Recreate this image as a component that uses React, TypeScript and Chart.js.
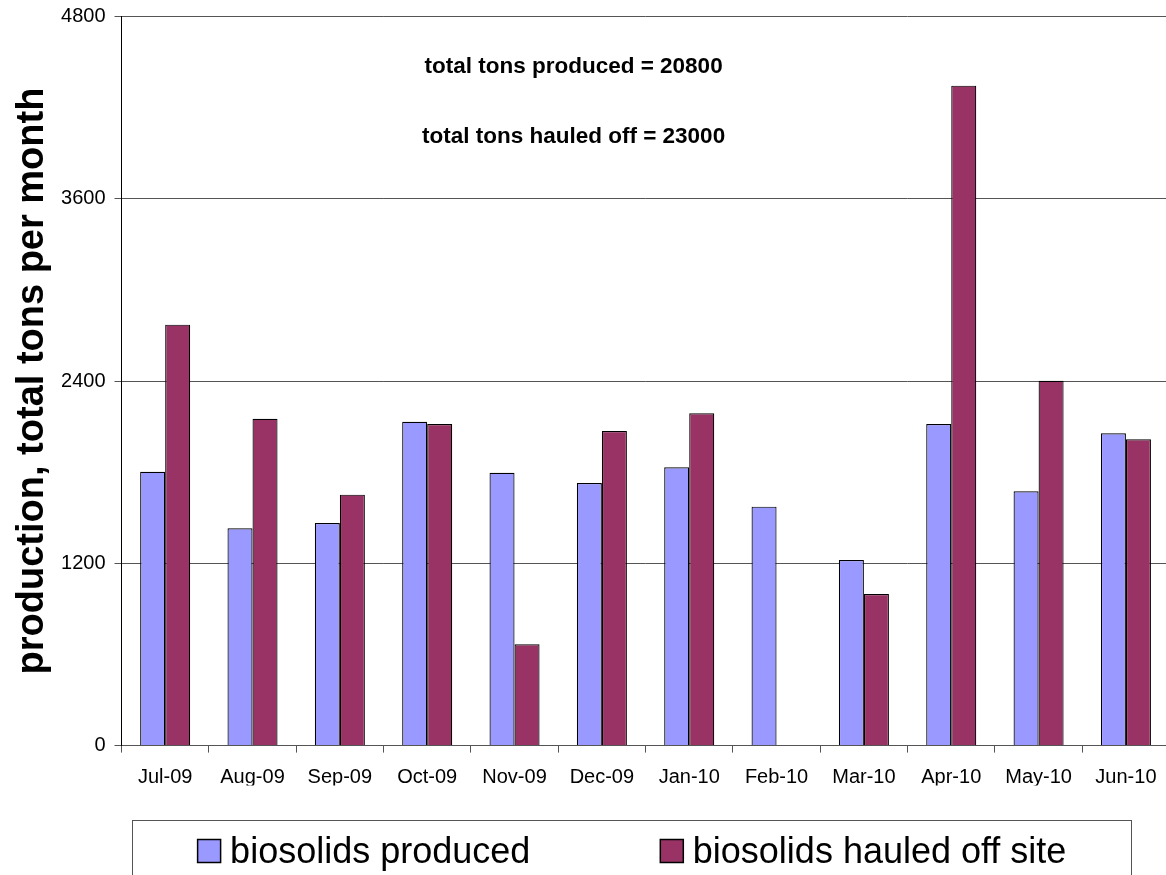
import React, { useEffect, useRef } from "react";
import { Chart, registerables } from "chart.js";

Chart.register(...registerables);

const categories = [
  "Jul-09", "Aug-09", "Sep-09", "Oct-09", "Nov-09", "Dec-09",
  "Jan-10", "Feb-10", "Mar-10", "Apr-10", "May-10", "Jun-10",
];
const producedValues = [1803, 1430, 1465, 2132, 1796, 1729, 1832, 1573, 1222, 2117, 1674, 2056];
const hauledValues = [2771, 2152, 1652, 2117, 667, 2071, 2187, 0, 998, 4344, 2402, 2016];
const seriesLabels = ["biosolids produced", "biosolids hauled off site"];
const yTicks = [0, 1200, 2400, 3600, 4800];
const annotations = ["total tons produced = 20800", "total tons hauled off = 23000"];
const yTitle = "production, total tons per month";

const FONT = "'Liberation Sans', Arial, Helvetica, sans-serif";

const annotationPlugin = {
  id: "annotationText",
  afterDraw(chart: any) {
    const { ctx, chartArea } = chart;
    const x = chartArea.left + (chartArea.right - chartArea.left) * 0.4313;
    const ys = [66.5, 137];
    ctx.save();
    ctx.font = `bold 22.5px ${FONT}`;
    ctx.fillStyle = "#000";
    ctx.textAlign = "center";
    ctx.textBaseline = "middle";
    annotations.forEach((t, i) => ctx.fillText(t, x, ys[i]));
    ctx.restore();
  },
};

const legendPlugin = {
  id: "framedLegend",
  afterDraw(chart: any) {
    const { ctx } = chart;
    const frameLeft = 132.5;
    const frameRight = 1131.5;
    const frameTop = 820.5;
    ctx.save();
    ctx.strokeStyle = "#555";
    ctx.lineWidth = 1;
    ctx.strokeRect(frameLeft, frameTop, frameRight - frameLeft, chart.height);
    ctx.font = `36px ${FONT}`;
    const box = 23;
    const gap = 9.5;
    const between = 130;
    const widths = chart.data.datasets.map((d: any) => box + gap + ctx.measureText(d.label).width);
    const total = widths.reduce((a: number, b: number) => a + b, 0) + between * (widths.length - 1);
    let x = (frameLeft + frameRight) / 2 - total / 2;
    const baseline = 862.5;
    chart.data.datasets.forEach((d: any, i: number) => {
      ctx.fillStyle = d.backgroundColor;
      ctx.fillRect(x, baseline - box, box, box);
      ctx.strokeStyle = "#000";
      ctx.lineWidth = 1.5;
      ctx.strokeRect(x, baseline - box, box, box);
      ctx.fillStyle = "#000";
      ctx.textBaseline = "alphabetic";
      ctx.textAlign = "left";
      ctx.fillText(d.label, x + box + gap, baseline);
      x += widths[i] + between;
    });
    ctx.restore();
  },
};

export default function App() {
  const canvasRef = useRef<HTMLCanvasElement | null>(null);

  useEffect(() => {
    if (!canvasRef.current) return;
    const chart = new Chart(canvasRef.current, {
      type: "bar",
      data: {
        labels: categories,
        datasets: [
          {
            label: seriesLabels[0],
            data: producedValues,
            backgroundColor: "#9999FF",
            borderColor: "#000",
            borderWidth: 1.2,
            categoryPercentage: 0.573,
            barPercentage: 1,
          },
          {
            label: seriesLabels[1],
            data: hauledValues,
            backgroundColor: "#993366",
            borderColor: "#000",
            borderWidth: 1.2,
            categoryPercentage: 0.573,
            barPercentage: 1,
          },
        ],
      },
      options: {
        animation: false,
        responsive: true,
        maintainAspectRatio: false,
        layout: { padding: { top: 16.4, right: 10.4, bottom: 114.4, left: 0 } },
        plugins: {
          legend: { display: false },
          tooltip: { enabled: false },
          title: { display: false },
        },
        scales: {
          x: {
            offset: true,
            grid: {
              offset: true,
              drawOnChartArea: false,
              drawTicks: true,
              tickLength: 7,
              color: "#555",
            },
            border: { display: true, color: "#555", width: 1 },
            ticks: {
              color: "#000",
              font: { family: FONT, size: 20 },
              padding: 13,
              maxRotation: 0,
              autoSkip: false,
            },
            afterFit(scale: any) {
              scale.height = 40;
              scale.paddingLeft = 0;
              scale.paddingRight = 0;
            },
          },
          y: {
            min: yTicks[0],
            max: yTicks[yTicks.length - 1],
            afterBuildTicks(scale: any) {
              scale.ticks = yTicks.map((v) => ({ value: v }));
            },
            grid: { color: "#555", tickLength: 7, drawTicks: true },
            border: { display: true, color: "#000", width: 1 },
            ticks: {
              color: "#000",
              font: { family: FONT, size: 20 },
              padding: 9,
              callback: (v: any) => String(v),
            },
            title: {
              display: true,
              text: yTitle,
              color: "#000",
              font: { family: FONT, size: 38, weight: "bold" },
              padding: { top: 10, bottom: 0 },
            },
            afterFit(scale: any) {
              scale.width = 121.5;
              scale.paddingTop = 0;
              scale.paddingBottom = 0;
            },
          },
        },
      },
      plugins: [annotationPlugin, legendPlugin],
    });
    return () => chart.destroy();
  }, []);

  return (
    <div
      style={{
        position: "fixed",
        left: 0,
        top: 0,
        width: 1166,
        height: 875,
        overflow: "hidden",
        background: "#fff",
      }}
    >
      <div style={{ position: "absolute", left: 0, top: 0, width: 1180, height: 900 }}>
        <canvas ref={canvasRef} />
      </div>
    </div>
  );
}
